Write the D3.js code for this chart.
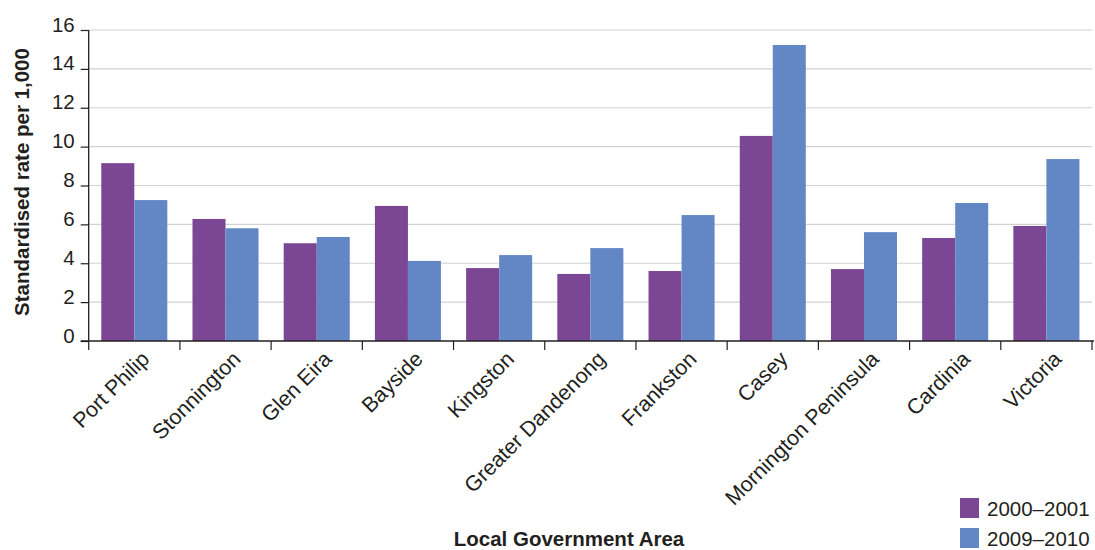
<!DOCTYPE html>
<html><head><meta charset="utf-8">
<script src="https://cdn.jsdelivr.net/npm/d3@7"></script>
<style>
body{margin:0;background:#fff;}
svg text{font-family:"Liberation Sans",Arial,Helvetica,sans-serif;fill:#231f20;}
</style></head>
<body><svg id="c" width="1095" height="550"></svg>
<script>
const categories = ["Port Philip","Stonnington","Glen Eira","Bayside","Kingston","Greater Dandenong","Frankston","Casey","Mornington Peninsula","Cardinia","Victoria"];
const series2000 = [9.15,6.28,5.03,6.95,3.75,3.45,3.6,10.55,3.7,5.3,5.92];
const series2009 = [7.25,5.8,5.35,4.12,4.42,4.78,6.48,15.23,5.6,7.1,9.36];
const seriesNames = ["2000–2001","2009–2010"];
const colors = ["#7b4693","#6387c5"];
const yTicks = [0,2,4,6,8,10,12,14,16];

const FS = "20.5px";
const svg = d3.select("#c");
const mLeft = 88.7, mRight = 1092, mTop = 30, mBottom = 341;

const x = d3.scaleBand().domain(categories).range([mLeft, mRight]).paddingInner(0.276).paddingOuter(0.138);
const xs = d3.scaleBand().domain(seriesNames).range([0, x.bandwidth()]);
const y = d3.scaleLinear().domain([0,16]).range([mBottom, mTop]);

// gridlines
svg.append("g").selectAll("line").data(yTicks.filter(d=>d>0)).join("line")
  .attr("x1", mLeft).attr("x2", mRight).attr("y1", d=>y(d)).attr("y2", d=>y(d))
  .attr("stroke", "#d2d2d2").attr("stroke-width", 1.2);

// bars
const data = categories.map((c,i)=>({c, vals:[series2000[i], series2009[i]]}));
const g = svg.append("g").selectAll("g").data(data).join("g")
  .attr("transform", d=>`translate(${x(d.c)},0)`);
g.selectAll("rect").data(d=>d.vals.map((v,j)=>({v, s:seriesNames[j], j}))).join("rect")
  .attr("x", d=>xs(d.s)).attr("width", xs.bandwidth())
  .attr("y", d=>y(d.v)).attr("height", d=>mBottom - y(d.v))
  .attr("fill", d=>colors[d.j]);

// y axis
const yAxis = svg.append("g").attr("transform", `translate(${mLeft},0)`)
  .call(d3.axisLeft(y).tickValues(yTicks).tickSize(8).tickPadding(6).tickFormat(d3.format("d")));
yAxis.select(".domain").attr("stroke", "#231f20").attr("stroke-width", 1.3).attr("d", `M0,${mTop}V${mBottom}`);
yAxis.selectAll(".tick line").attr("stroke", "#231f20").attr("stroke-width", 1.2);
yAxis.selectAll(".tick text").style("font-size", FS).attr("fill", "#231f20").attr("dy", "0.05em")
  .style("font-family", "'Liberation Sans',Arial,sans-serif");

// x axis line and boundary ticks
const step = x.step();
const bounds = d3.range(categories.length+1).map(i => mLeft + i*step);
svg.append("line").attr("x1", mLeft-8).attr("x2", mRight+2).attr("y1", mBottom).attr("y2", mBottom)
  .attr("stroke", "#231f20").attr("stroke-width", 1.5);
svg.append("g").selectAll("line").data(bounds).join("line")
  .attr("x1", d=>d).attr("x2", d=>d).attr("y1", mBottom).attr("y2", mBottom+9)
  .attr("stroke", "#231f20").attr("stroke-width", 1.2);

// x labels
svg.append("g").selectAll("text").data(categories).join("text")
  .attr("transform", d=>`translate(${x(d)+x.bandwidth()/2+11},${mBottom+14}) rotate(-45)`)
  .attr("text-anchor", "end").attr("dy", "0.35em")
  .style("font-size", "21.4px").text(d=>d);

// axis titles
svg.append("text").attr("transform", `translate(29,182) rotate(-90)`)
  .attr("text-anchor", "middle").style("font-size", FS).style("font-weight", "bold")
  .text("Standardised rate per 1,000");
svg.append("text").attr("x", 569).attr("y", 546).attr("text-anchor", "middle")
  .style("font-size", FS).style("font-weight", "bold").text("Local Government Area");

// legend
const lg = svg.append("g").selectAll("g").data(seriesNames).join("g")
  .attr("transform", (d,i)=>`translate(960,${498 + i*30})`);
lg.append("rect").attr("width", 19).attr("height", 20).attr("fill", (d,i)=>colors[i]);
lg.append("text").attr("x", 27).attr("y", 18).style("font-size", FS).text(d=>d);
</script></body></html>
